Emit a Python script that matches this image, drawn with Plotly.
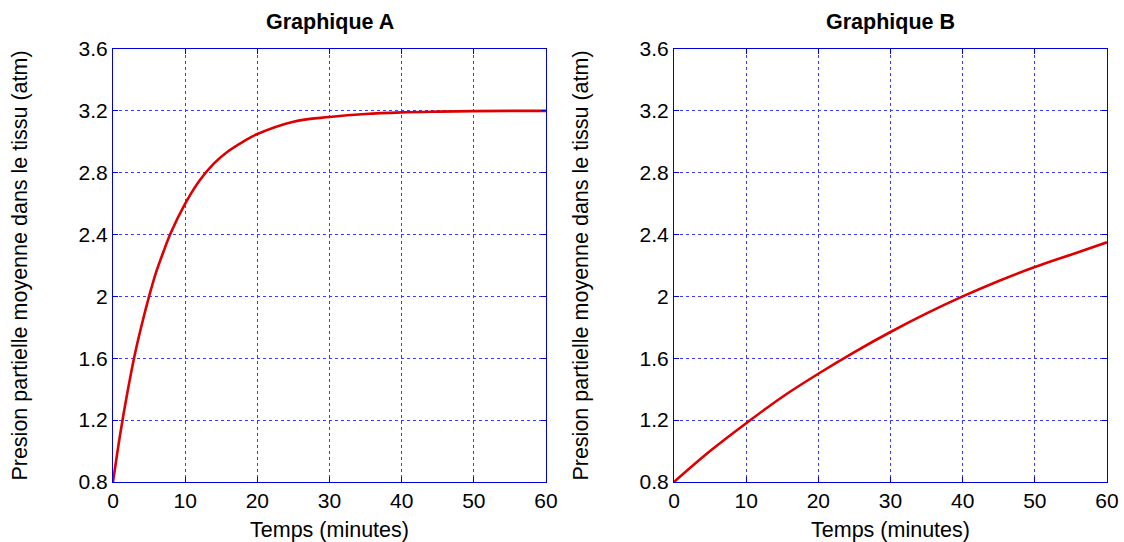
import plotly.graph_objects as go

# Readings from the reference
t_a = [0, 1, 2, 3, 4, 5, 6, 7, 8, 10, 12, 14, 16, 18, 20, 25, 30, 35, 40, 45, 50, 55, 60]
p_a = [0.80, 1.11, 1.38, 1.62, 1.82, 2.00, 2.16, 2.29, 2.41, 2.60, 2.75, 2.86, 2.94, 3.00,
       3.05, 3.13, 3.16, 3.18, 3.19, 3.195, 3.198, 3.20, 3.20]

t_b = [0, 5, 10, 15, 20, 25, 30, 35, 40, 45, 50, 55, 60]
p_b = [0.80, 1.00, 1.18, 1.35, 1.50, 1.64, 1.77, 1.89, 2.00, 2.10, 2.19, 2.27, 2.35]

titles = ["Graphique A", "Graphique B"]
x_title = "Temps (minutes)"
y_title = "Presion partielle moyenne dans le tissu (atm)"
x_ticks = [0, 10, 20, 30, 40, 50, 60]
y_ticks = [0.8, 1.2, 1.6, 2.0, 2.4, 2.8, 3.2, 3.6]
y_labels = ["0.8", "1.2", "1.6", "2", "2.4", "2.8", "3.2", "3.6"]

FONT = "Liberation Sans, Arial, sans-serif"
BLUE = "#0000dd"
GRID = "#3b3bff"
RED = "#dd0000"
FS_TICK = 21
FS_TITLE = 21.5

W, H = 1124, 542

fig = go.Figure()
fig.add_trace(go.Scatter(x=t_a, y=p_a, mode="lines", line=dict(color=RED, width=2.6, shape="spline"),
                         xaxis="x", yaxis="y", showlegend=False))
fig.add_trace(go.Scatter(x=t_b, y=p_b, mode="lines", line=dict(color=RED, width=2.6, shape="spline"),
                         xaxis="x2", yaxis="y2", showlegend=False))

xdoms = [[113 / W, 546 / W], [674 / W, 1107 / W]]
ydom = [1 - 482 / H, 1 - 49 / H]

def xaxis(dom, anchor):
    return dict(domain=dom, anchor=anchor, range=[0, 60], tickvals=x_ticks, automargin=False,
                ticks="inside", ticklen=5, tickcolor=BLUE, showline=True, linecolor=BLUE,
                linewidth=1, mirror="ticks", showgrid=True, gridcolor=GRID, griddash="dot",
                gridwidth=1, zeroline=False, tickfont=dict(size=FS_TICK, color="black", family=FONT),
                ticklabeloverflow="allow",
                title=dict(text=x_title, font=dict(size=FS_TITLE, color="black", family=FONT), standoff=10))

def yaxis(anchor):
    return dict(domain=ydom, anchor=anchor, range=[0.8, 3.6], tickvals=y_ticks, ticktext=y_labels,
                automargin=False,
                ticks="inside", ticklen=5, tickcolor=BLUE, showline=True, linecolor=BLUE,
                linewidth=1, mirror="ticks", showgrid=True, gridcolor=GRID, griddash="dot",
                gridwidth=1, zeroline=False, tickfont=dict(size=FS_TICK, color="black", family=FONT),
                title=dict(text=y_title, font=dict(size=FS_TITLE, color="black", family=FONT), standoff=45))

fig.update_layout(
    width=W, height=H, margin=dict(l=0, r=0, t=0, b=0, autoexpand=False),
    paper_bgcolor="white", plot_bgcolor="white",
    font=dict(family=FONT, color="black"),
    xaxis=xaxis(xdoms[0], "y"), yaxis=yaxis("x"),
    xaxis2=xaxis(xdoms[1], "y2"), yaxis2=yaxis("x2"),
    annotations=[
        dict(text="<b>" + titles[i] + "</b>", x=(xdoms[i][0] + xdoms[i][1]) / 2, y=1 - 22 / H,
             xref="paper", yref="paper", showarrow=False, xanchor="center", yanchor="middle",
             font=dict(size=FS_TITLE, family=FONT, color="black"))
        for i in range(2)
    ],
)

fig.write_html("out.html", config={"displayModeBar": False},
               post_script="document.body.style.margin='0';document.body.style.overflow='hidden';")
